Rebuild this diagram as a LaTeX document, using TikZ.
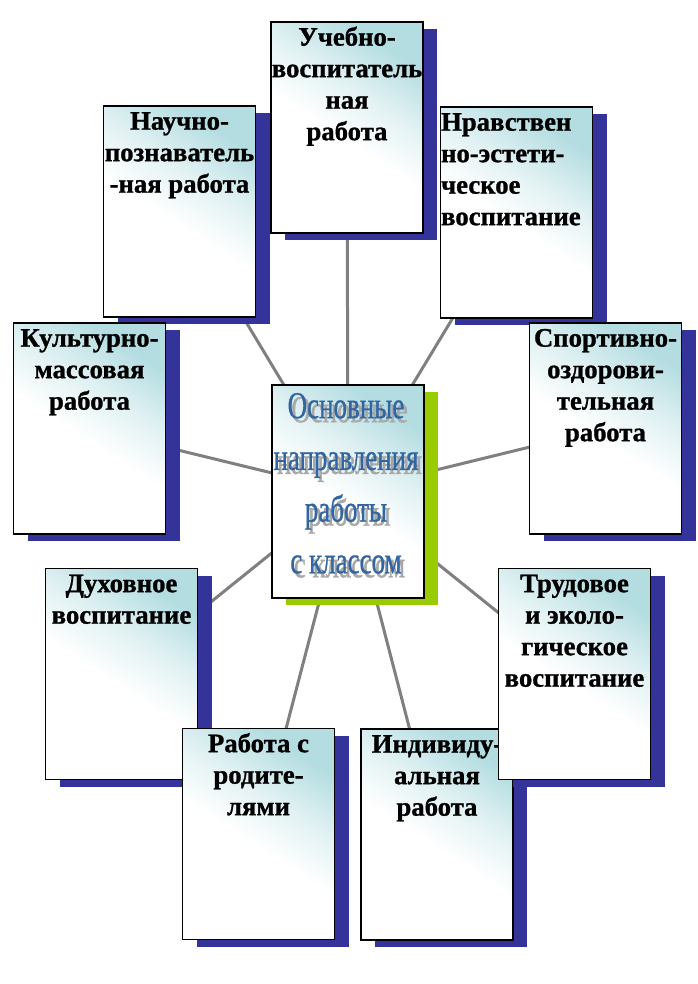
\documentclass[tikz,border=0pt]{standalone}
\usepackage{fontspec}
\setmainfont{Liberation Serif}[BoldFont={Liberation Serif Bold}]
\newfontfamily\cardfont[FakeBold=1]{Liberation Serif Bold}
\newfontfamily\wafont[FakeStretch=0.71,FakeBold=0.8]{Liberation Serif}
\usetikzlibrary{shadows,calc}
\definecolor{tealc}{RGB}{180,221,225}
\definecolor{navyc}{RGB}{51,51,153}
\definecolor{greenc}{RGB}{153,204,0}
\definecolor{linec}{RGB}{128,128,128}
\definecolor{wablue}{RGB}{51,102,160}
\definecolor{wagray}{RGB}{168,168,168}
\pgfdeclareverticalshading{boxshade}{100bp}{color(0bp)=(white); color(47bp)=(white); color(60bp)=(tealc!40!white); color(74bp)=(tealc); color(100bp)=(tealc)}
\pgfdeclarelayer{bg}
\pgfsetlayers{bg,main}
\tikzset{
  card/.style={draw=black, line width=1.2pt, minimum width=152pt, minimum height=211pt,
    inner sep=0pt, shading=boxshade, shading angle=-33,
    drop shadow={shadow xshift=14pt, shadow yshift=-7pt, fill=navyc, opacity=1}},
  centerbox/.style={draw=black, line width=1.2pt, minimum width=152pt, minimum height=213pt,
    inner sep=0pt, shading=boxshade, shading angle=-33,
    drop shadow={shadow xshift=14pt, shadow yshift=-7pt, fill=greenc, opacity=1}},
  cardtxt/.style={inner sep=0pt, font=\cardfont\fontsize{26.7}{31.5}\selectfont},
  watxt/.style={inner sep=0pt, align=center, font=\wafont\fontsize{38}{51.7}\selectfont},
  conn/.style={draw=linec, line width=3pt}
}
\newcommand\mkcard[4]{%
  \node[card] (#1) at (#2,#3) {};
  \node[cardtxt, anchor=north, align=center] (#1t) at ($(#1.north)+(0,2)$) {\strut #4};
}
\begin{document}
\begin{tikzpicture}[x=1pt,y=-1pt]
\useasboundingbox (0,0) rectangle (697,984);
\begin{pgfonlayer}{bg}
\fill[white] (0,0) rectangle (697,984);
\end{pgfonlayer}
% center
\node[centerbox] (C) at (348,491.5) {};
\node[watxt, text=wagray, anchor=north] (Cs) at (349.5,385.8) {\strut Основные\\направления\\работы\\с классом};
\node[watxt, text=wablue, anchor=north] (Ct) at (346,381.8) {\strut Основные\\направления\\работы\\с классом};
% cards
\mkcard{U}{347}{127.5}{Учебно-\\воспитатель\\ная\\работа}
\mkcard{N}{179.5}{211.5}{Научно-\\познаватель\\-ная работа}
\node[card] (R) at (516.5,212.5) {};
\node[cardtxt, anchor=north west, align=left] (Rt) at ($(R.north west)+(1,2)$) {\strut Нравствен\\но-эстети-\\ческое\\воспитание};
\mkcard{K}{89.5}{428.5}{Культурно-\\массовая\\работа}
\mkcard{S}{605.5}{428.5}{Спортивно-\\оздорови-\\тельная\\работа}
\mkcard{D}{121.5}{674}{Духовное\\воспитание}
\mkcard{P}{258.5}{834}{Работа с\\родите-\\лями}
\mkcard{I}{437}{834.5}{Индивиду-\\альная\\работа}
\mkcard{T}{574.5}{674}{Трудовое\\и эколо-\\гическое\\воспитание}
% connectors
\begin{pgfonlayer}{bg}
\foreach \n in {U,N,R,K,S,D,T,P,I}{\draw[conn] (C.center) -- (\n.center);}
\end{pgfonlayer}
\end{tikzpicture}
\end{document}
